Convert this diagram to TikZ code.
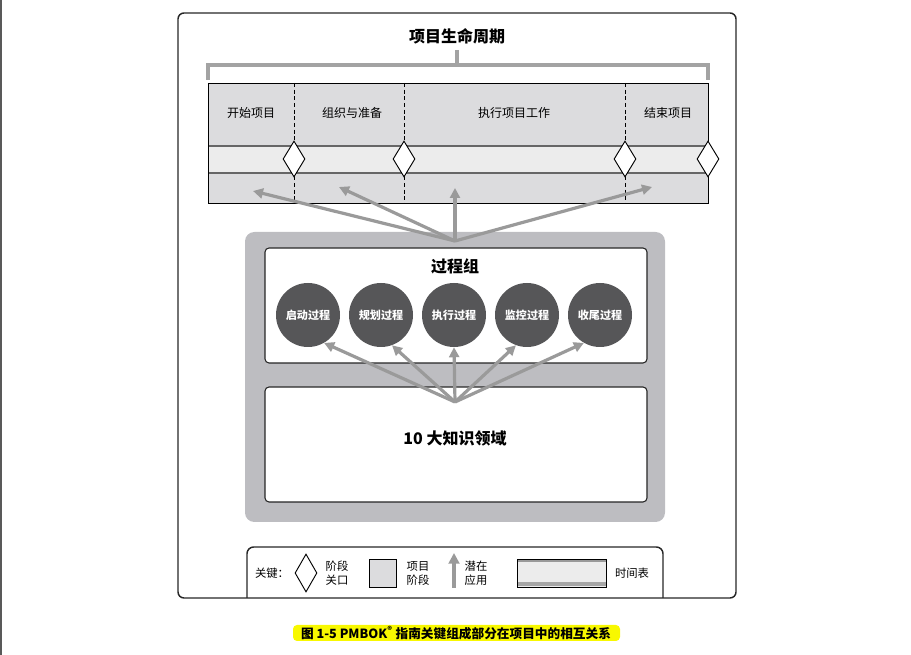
\documentclass[tikz,border=0pt]{standalone}
\usepackage{fontspec}
\setmainfont{Noto Sans CJK SC}
\usepackage{xcolor}
\usetikzlibrary{shapes.geometric,arrows.meta}

\definecolor{arrowgray}{HTML}{9A9A9A}
\definecolor{phasegray}{HTML}{DCDCDE}
\definecolor{bandgray}{HTML}{ECECEC}
\definecolor{boxgray}{HTML}{BDBDC1}
\definecolor{ballgray}{HTML}{565658}
\definecolor{hilite}{HTML}{F8F800}

\begin{document}
\begin{tikzpicture}[x=0.75pt,y=-0.75pt,
  frame/.style={draw=black!85,line width=1.1pt,rounded corners=4.5pt},
  lines/.style={arrowgray,line width=2.4pt,-{Triangle[length=7.5pt,width=7.5pt]}},
  gate/.style={shape=diamond,draw=black,fill=white,line width=0.7pt,inner sep=0pt,minimum width=16.5pt,minimum height=27pt},
  ball/.style={circle,fill=ballgray,minimum size=48pt,inner sep=0pt,text=white,font=\fontsize{8.3}{10}\selectfont\bfseries},
  phase/.style={font=\fontsize{9}{11}\selectfont},
  head/.style={font=\fontsize{12}{14}\selectfont\bfseries},
  keytext/.style={font=\fontsize{8.5}{10.5}\selectfont,align=left}]

\useasboundingbox (0,0) rectangle (911,655);
\draw[line width=1.5pt,black!65](1,0)--(1,655);

\coordinate(T)at(457,36);
\coordinate(L)at(208,65);
\coordinate(R)at(708,65);
\coordinate(M)at(457,50);
\coordinate(U)at(455,241);%%top fan
\coordinate(K)at(455,402);%%bottom fan
\coordinate(A1)at(253,191);
\coordinate(A2)at(339,187);
\coordinate(A3)at(455,188);
\coordinate(A4)at(652,187);

% outer frame
\draw[frame](178,13)rectangle(736,598);

% life cycle
\node[head](title)at(T){项目生命周期};
\draw[line width=3pt,color=black!36](208,80)--(L)--(R)--(708,80);
\draw[line width=3pt,color=black!36](M)--(457,65);
\fill[phasegray](208,83)rectangle(708,203);
\fill[bandgray](208,146)rectangle(708,173);
\draw[line width=1.4pt,black!60](208,146)--(708,146);
\draw[line width=1.4pt,black!60](208,173)--(708,173);
\draw[line width=0.55pt](208,83)rectangle(708,203);
\draw[densely dashed,line width=0.6pt](294,83)--(294,203);
\draw[densely dashed,line width=0.6pt](404,83)--(404,203);
\draw[densely dashed,line width=0.6pt](625,83)--(625,203);

\node[phase](p1)at(251,113){开始项目};
\node[phase](p2)at(352,113){组织与准备};
\node[phase](p3)at(514,113){执行项目工作};
\node[phase](p4)at(668,113){结束项目};

\node[gate](g1)at(294,159){};
\node[gate](g2)at(404,159){};
\node[gate](g3)at(625,159){};
\node[gate](g4)at(708,159){};

% process groups and knowledge areas
\fill[boxgray,rounded corners=7pt](245,232)rectangle(665,522);
\draw[draw=black!85,fill=white,line width=0.8pt,rounded corners=3pt](265,248)rectangle(647,363);
\draw[draw=black!85,fill=white,line width=0.8pt,rounded corners=3pt](265,387)rectangle(647,502);
\node[head](pg)at(455,266){过程组};
\node[head](ka)at(455,438){10 大知识领域};

\node[ball](b1)at(308,315){启动过程};
\node[ball](b2)at(381,315){规划过程};
\node[ball](b3)at(454,315){执行过程};
\node[ball](b4)at(527,315){监控过程};
\node[ball](b5)at(600,315){收尾过程};

\draw[lines](U)--(A1);
\draw[lines](U)--(A2);
\draw[lines](U)--(A3);
\draw[lines](U)--(A4);

\draw[lines](K)--(b1.300);
\draw[lines](K)--(b2.290);
\draw[lines](K)--(b3.south);
\draw[lines](K)--(b4.250);
\draw[lines](K)--(b5.240);

% key
\draw[line width=1.1pt,black!85,rounded corners=5pt](247,598)--(247,547)--(663,547)--(663,598);
\node[keytext](k0)at(272,573){关键：};
\node[gate,minimum width=16.5pt,minimum height=28.5pt](k1)at(306,573){};
\node[keytext](k2)at(337,573){阶段\\关口};
\draw[fill=phasegray,line width=0.7pt](369,559)rectangle(396,587);
\node[keytext](k3)at(418,573){项目\\阶段};
\coordinate(Q)at(454,588);
\draw[arrowgray,line width=3pt,-{Triangle[length=8pt,width=8pt]}](Q)--(454,553);
\node[keytext](k4)at(476,573){潜在\\应用};
\fill[bandgray](517,559)rectangle(606,587);
\fill[black!35](517,582)rectangle(606,586);
\draw[black!40,line width=0.8pt](517,561)--(606,561);
\draw[line width=0.7pt](517,559)rectangle(606,587);
\node[keytext](k5)at(632,573){时间表};

% caption
\fill[hilite,rounded corners=3pt](293,625)rectangle(620,641);
\node[font=\fontsize{9.5}{11}\selectfont\bfseries](cap)at(456,633){图 1-5 PMBOK\textsuperscript{®} 指南关键组成部分在项目中的相互关系};
\end{tikzpicture}
\end{document}
